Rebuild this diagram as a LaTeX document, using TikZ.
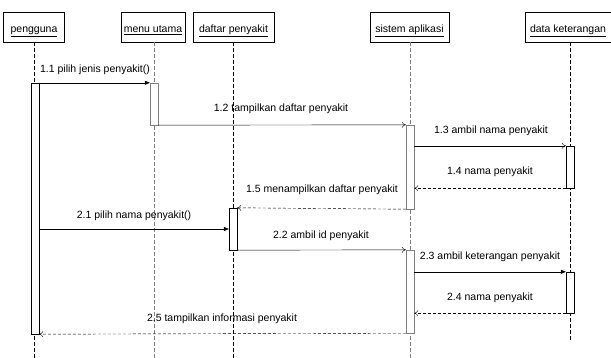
\documentclass[tikz,border=0pt]{standalone}
\usepackage{fontspec}
\setmainfont{Liberation Sans}
\usetikzlibrary{arrows.meta}
\begin{document}
\begin{tikzpicture}[x=1pt,y=-1pt,font=\fontsize{10.5}{12}\selectfont,
  objbox/.style={shape=rectangle,draw,minimum height=30pt,inner sep=2pt,text height=11pt,text depth=0pt},
  actbar/.style={shape=rectangle,draw,fill=white,minimum width=8pt,inner sep=0pt},
  lifeline/.style={dash pattern=on 4pt off 2pt},
  callmsg/.style={-{Triangle[length=5pt,width=4pt]}},
  sendmsg/.style={-{To[length=4pt,width=6pt]}},
  retmsg/.style={dash pattern=on 3pt off 2pt,-{To[length=4pt,width=6pt]}}]
\useasboundingbox (0,0) rectangle (611,358);

% objects
\node[objbox,minimum width=61pt] (pengguna) at (34,27) {\underline{pengguna}};
\node[objbox,minimum width=64pt] (menu) at (153,27) {\underline{menu utama}};
\node[objbox,minimum width=81pt] (daftar) at (233.5,27) {\underline{daftar penyakit}};
\node[objbox,minimum width=79pt] (sistem) at (409.5,27) {\underline{sistem aplikasi}};
\node[objbox,minimum width=86pt] (data) at (568,27) {\underline{data keterangan}};

% lifelines
\coordinate (pend) at (34,358);
\coordinate (mend) at (154,358);
\coordinate (fend) at (233,358);
\coordinate (send) at (410,358);
\coordinate (dend) at (570,342);
\draw[lifeline] (pengguna.south -| pend) -- (pend);
\draw[lifeline,gray] (menu.south -| mend) -- (mend);
\draw[lifeline] (daftar.south -| fend) -- (fend);
\draw[lifeline,gray] (sistem.south -| send) -- (send);
\draw[lifeline] (data.south -| dend) -- (dend);

% activations
\node[actbar,minimum height=251pt] (pbar) at (35,208.5) {};
\node[actbar,draw=gray,minimum height=42pt] (mbar) at (154,104) {};
\node[actbar,minimum height=42pt] (fbar) at (233,229) {};
\node[actbar,draw=gray,minimum height=84pt] (sbara) at (410,167) {};
\node[actbar,minimum height=42pt] (dbara) at (570,167) {};
\node[actbar,draw=gray,minimum height=83pt] (sbarb) at (410,291.5) {};
\node[actbar,minimum height=41pt] (dbarb) at (570,292.5) {};

% messages
\coordinate (m21) at (0,229);
\draw[callmsg] (pbar.east |- mbar.north) -- (mbar.north west);
\draw[sendmsg] (mbar.south east) -- (sbara.north west);
\draw[sendmsg] (sbara.east |- dbara.north) -- (dbara.north west);
\draw[retmsg] (dbara.south west) -- (sbara.east |- dbara.south);
\draw[retmsg] (sbara.south west) -- (fbar.north east);
\draw[callmsg] (pbar.east |- m21) -- (fbar.west |- m21);
\draw[sendmsg] (fbar.south east) -- (sbarb.north west);
\draw[callmsg] (sbarb.east |- dbarb.north) -- (dbarb.north west);
\draw[retmsg] (dbarb.south west) -- (sbarb.east |- dbarb.south);
\draw[retmsg] (sbarb.south west) -- (pbar.south east);

% labels
\node (l11) at (95,70) {1.1 pilih jenis penyakit()};
\node (l12) at (281,109) {1.2 tampilkan daftar penyakit};
\node (l13) at (491,131) {1.3 ambil nama penyakit};
\node (l14) at (490,172) {1.4 nama penyakit};
\node (l15) at (322,190) {1.5 menampilkan daftar penyakit};
\node (l21) at (134,216) {2.1 pilih nama penyakit()};
\node (l22) at (321,236) {2.2 ambil id penyakit};
\node (l23) at (490,257) {2.3 ambil keterangan penyakit};
\node (l24) at (490,298) {2.4 nama penyakit};
\node (l25) at (222,319) {2.5 tampilkan informasi penyakit};
\end{tikzpicture}
\end{document}
